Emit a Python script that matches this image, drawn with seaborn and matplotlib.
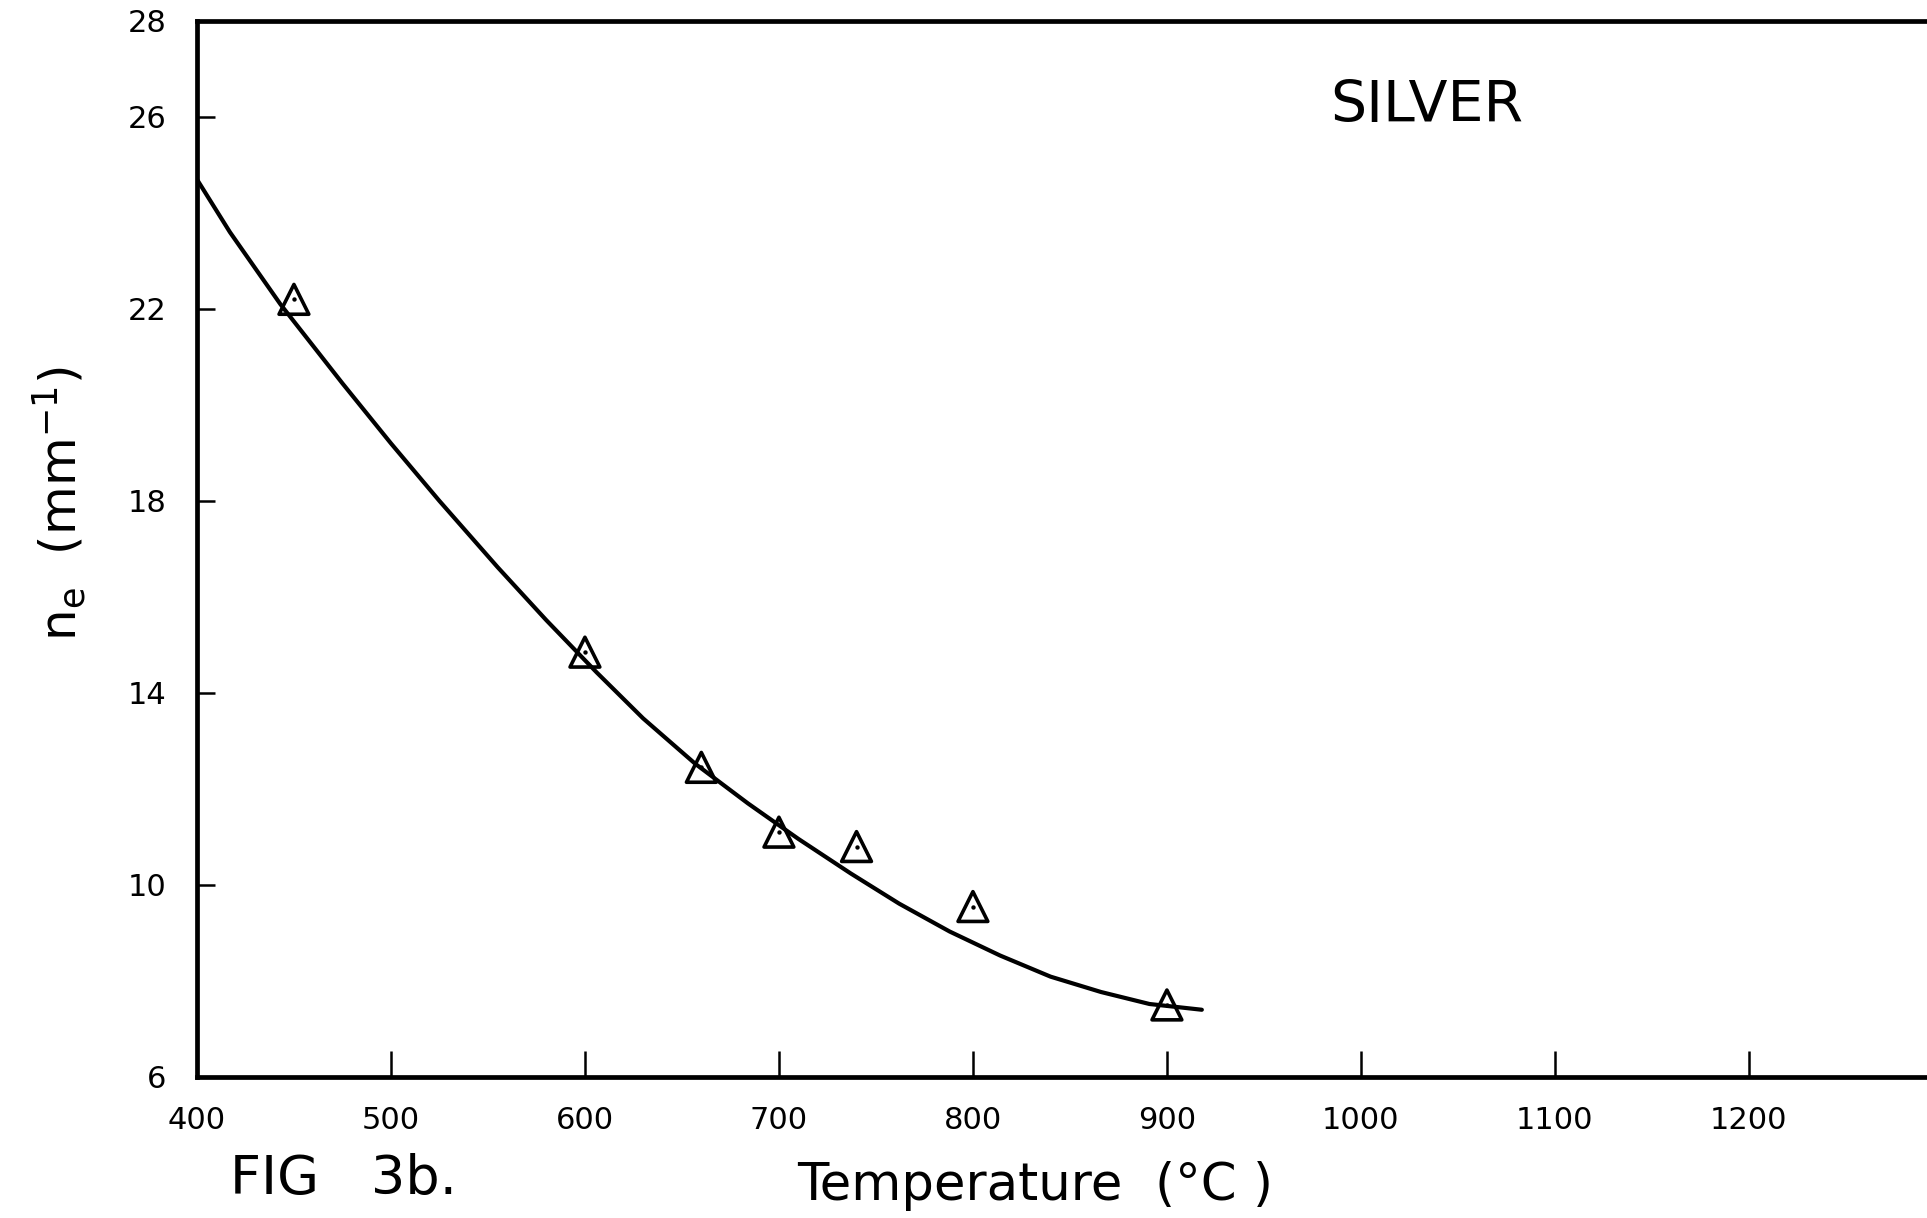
import numpy as np
import pandas as pd
import matplotlib
matplotlib.use("Agg")
import matplotlib.pyplot as plt
import seaborn as sns

# ---- data ----
temperature = [450, 600, 660, 700, 740, 800, 900]          # deg C
n_e = [22.2, 14.85, 12.45, 11.1, 10.8, 9.55, 7.5]          # mm^-1

curve_temperature = [400, 417, 443, 475, 500, 525, 555, 580, 606, 630, 657, 684,
                     710, 737, 762, 788, 814, 840, 866, 891, 918]
curve_n_e = [24.7, 23.6, 22.1, 20.45, 19.2, 18.0, 16.62, 15.52, 14.43, 13.47,
             12.52, 11.7, 10.96, 10.24, 9.61, 9.03, 8.53, 8.09, 7.77, 7.52, 7.4]

x_ticks = [400, 500, 600, 700, 800, 900, 1000, 1100, 1200]
y_ticks = [6, 10, 14, 18, 22, 26, 28]

points = pd.DataFrame({"T": temperature, "n": n_e})
curve = pd.DataFrame({"T": curve_temperature, "n": curve_n_e})

sns.set_theme(style="white")
plt.rcParams["font.family"] = ["DejaVu Sans"]
plt.rcParams["mathtext.fontset"] = "dejavusans"

fig = plt.figure(figsize=(19.27, 12.18), dpi=100)
ax = fig.add_axes([0.1022, 0.1158, 0.8978, 0.8670])

sns.lineplot(data=curve, x="T", y="n", sort=False, estimator=None,
             color="black", linewidth=3.0, ax=ax)
sns.scatterplot(data=points, x="T", y="n", marker="^", s=460,
                facecolors="none", edgecolor="black", linewidth=2.6,
                zorder=3, ax=ax)
sns.scatterplot(data=points, x="T", y="n", marker="o", s=10,
                color="black", edgecolor="black", linewidth=0,
                zorder=3, ax=ax)

ax.set_xlim(400, 1291.8)
ax.set_ylim(6, 28)
ax.set_xticks(x_ticks)
ax.set_yticks(y_ticks)
ax.set_xticklabels([str(v) for v in x_ticks])
ax.set_yticklabels([str(v) for v in y_ticks])

ax.tick_params(axis="x", which="major", bottom=True, top=False,
               direction="in", length=19, width=1.8,
               pad=21, labelsize=22, colors="black")
ax.tick_params(axis="y", which="major", left=True, right=False,
               direction="in", length=13, width=1.8,
               pad=22, labelsize=22, colors="black")

for side in ["left", "bottom", "top"]:
    ax.spines[side].set_visible(True)
    ax.spines[side].set_linewidth(3.4)
    ax.spines[side].set_color("black")
ax.spines["right"].set_visible(False)

ax.set_xlabel("Temperature  (°C )", fontsize=37, color="black")
ax.xaxis.set_label_coords(0.4844, -0.103)
ax.xaxis.label.set_va("center")

ax.set_ylabel(r"$\mathregular{n_e}$  (mm$\mathregular{^{-1}}$)",
              fontsize=36, color="black")
ax.yaxis.set_label_coords(-0.079, 0.543)
ax.yaxis.label.set_va("center")
ax.yaxis.label.set_ha("center")

ax.text(0.655, 0.9186, "SILVER", transform=ax.transAxes, fontsize=41,
        ha="left", va="center", color="black")

fig.text(230 / 1927, 1 - 1179 / 1218, "FIG   3b.", fontsize=39,
         ha="left", va="center", color="black")

fig.savefig("out.png", dpi=100, facecolor="white")
